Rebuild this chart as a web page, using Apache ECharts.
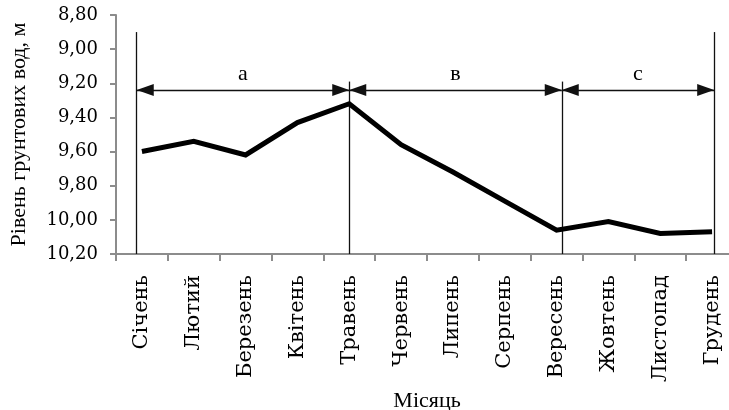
<!DOCTYPE html>
<html>
<head>
<meta charset="utf-8">
<script src="https://cdn.jsdelivr.net/npm/echarts@6/dist/echarts.min.js"></script>
<style>html,body{margin:0;padding:0;background:#fff}#c{width:729px;height:410px}</style>
</head>
<body>
<div id="c"></div>
<script>
// Data
const months = ['Січень','Лютий','Березень','Квітень','Травень','Червень','Липень','Серпень','Вересень','Жовтень','Листопад','Грудень'];
const levels = [9.60, 9.54, 9.62, 9.43, 9.32, 9.56, 9.72, 9.89, 10.06, 10.01, 10.08, 10.07];
const periodLabels = ['а', 'в', 'с'];
// period boundaries on a 0..12 month scale (category i centre = i + 0.5)
const periodBounds = [0.4, 4.5, 8.6, 11.54];
const arrowLevel = 9.24;
const outerLineTop = 8.90;
const innerLineTop = 9.19;
const lineBottom = 10.2;
const yMin = 8.8, yMax = 10.2, yStep = 0.2;

const FONT = '"Liberation Serif", "Times New Roman", serif';
const TICK_FONT = '"DejaVu Serif", "Liberation Serif", serif';
const AXIS_COLOR = '#8c8c8c';

const verticals = periodBounds.map((b, i) => [
  { coord: [b, (i === 0 || i === periodBounds.length - 1) ? outerLineTop : innerLineTop] },
  { coord: [b, lineBottom] }
]);
const arrows = periodLabels.map((lab, i) => [
  { coord: [periodBounds[i], arrowLevel], name: lab },
  { coord: [periodBounds[i + 1], arrowLevel] }
]);

const chart = echarts.init(document.getElementById('c'), null, { renderer: 'canvas' });
chart.setOption({
  animation: false,
  backgroundColor: '#fff',
  textStyle: { fontFamily: FONT },
  grid: { left: 116, top: 15, right: -9, bottom: 156, containLabel: false, outerBoundsMode: 'none' },
  xAxis: [{
    type: 'category',
    data: months,
    boundaryGap: true,
    name: 'Місяць',
    nameLocation: 'middle',
    nameGap: 135,
    nameTextStyle: { fontFamily: FONT, fontSize: 22, color: '#000' },
    axisLine: { lineStyle: { color: AXIS_COLOR, width: 2 } },
    axisTick: { show: true, interval: 0, length: 7, lineStyle: { color: AXIS_COLOR, width: 2 } },
    axisLabel: { interval: 0, rotate: 90, margin: 21, fontFamily: TICK_FONT, fontSize: 21, color: '#000' },
    splitLine: { show: false }
  }, {
    type: 'value',
    min: 0, max: 12,
    show: false
  }],
  yAxis: {
    type: 'value',
    inverse: true,
    min: yMin, max: yMax, interval: yStep,
    name: 'Рівень грунтових вод, м',
    nameLocation: 'middle',
    nameGap: 86,
    nameRotate: 90,
    nameTextStyle: { fontFamily: FONT, fontSize: 22, color: '#000' },
    axisLine: { show: true, lineStyle: { color: AXIS_COLOR, width: 2 } },
    axisTick: { show: true, length: 6, lineStyle: { color: AXIS_COLOR, width: 2 } },
    axisLabel: {
      margin: 18, fontFamily: TICK_FONT, fontSize: 18, color: '#000',
      formatter: v => v.toFixed(2).replace('.', ',')
    },
    splitLine: { show: false }
  },
  series: [{
    type: 'line',
    data: levels,
    xAxisIndex: 0,
    showSymbol: false,
    symbol: 'none',
    lineStyle: { color: '#000', width: 5, join: 'miter' },
    z: 5
  }, {
    type: 'line',
    xAxisIndex: 1,
    data: [],
    silent: true,
    markLine: {
      silent: true,
      animation: false,
      symbol: ['none', 'none'],
      lineStyle: { color: '#111', width: 1.3, type: 'solid' },
      label: { show: false },
      emphasis: { disabled: true },
      data: verticals
    }
  }, {
    type: 'line',
    xAxisIndex: 1,
    data: [],
    silent: true,
    markLine: {
      silent: true,
      animation: false,
      symbol: ['triangle', 'triangle'],
      symbolSize: [12, 17],
      symbolOffset: [[0, 8.5], [0, 8.5]],
      lineStyle: { color: '#111', width: 1.3, type: 'solid' },
      label: {
        show: true, position: 'middle', formatter: '{b}', distance: 5,
        fontFamily: FONT, fontSize: 22, color: '#000'
      },
      emphasis: { disabled: true },
      data: arrows
    }
  }]
});
</script>
</body>
</html>
